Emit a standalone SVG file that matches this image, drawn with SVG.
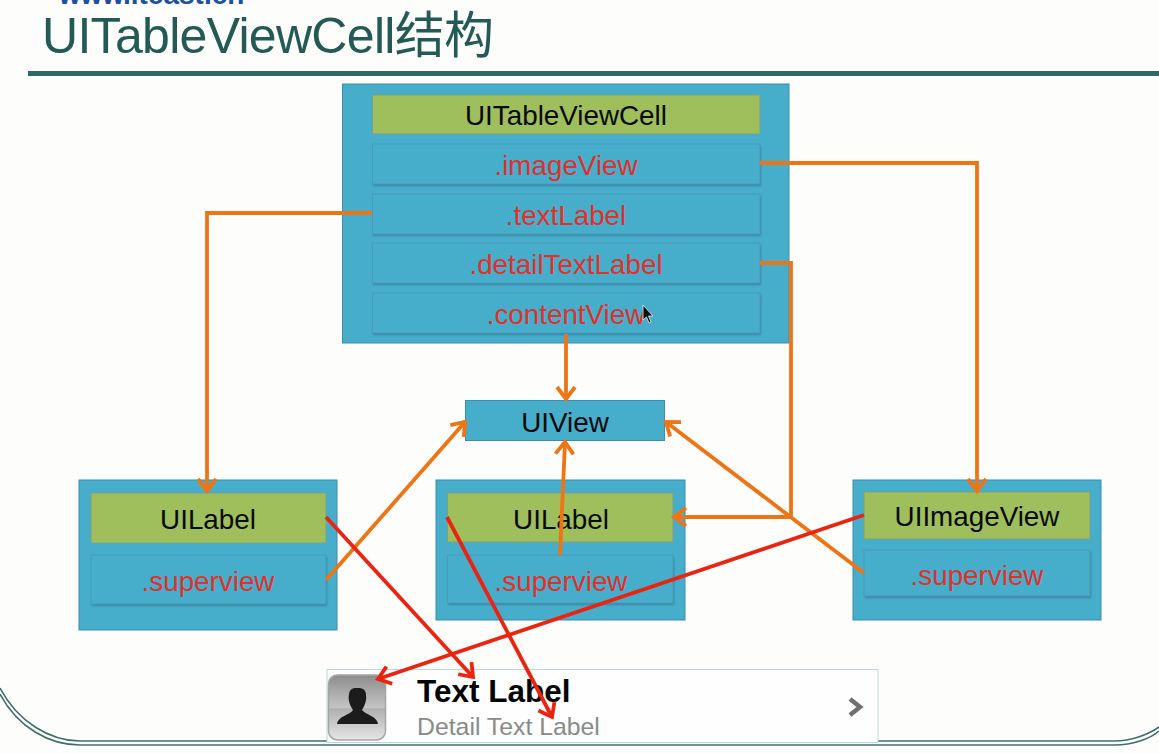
<svg xmlns="http://www.w3.org/2000/svg" width="1159" height="754" viewBox="0 0 1159 754">
<style>
text{font-family:"Liberation Sans","Noto Sans CJK SC",sans-serif;text-anchor:middle}
.outer{fill:#46aecb;stroke:#3a8db0;stroke-width:1}
.green{fill:#9fbe5c;stroke:#7f9f86;stroke-width:1}
.row{fill:#46aecb;stroke:#4a9ab8;stroke-width:1}
.shadow{fill:#2f6c85;opacity:.6;filter:url(#soft)}
.blk{font-size:27.800px;fill:#0a0a0a}
.red{font-size:27.800px;fill:#e2302a}
.o{fill:none;stroke:#ee7414;stroke-width:3.800;stroke-linejoin:miter}
.r{fill:none;stroke:#ea2410;stroke-width:3.800}
.tail{fill:none;stroke-width:1.600;stroke:#3f6f6b}
</style>
<defs>
<filter id="soft" x="-5%" y="-20%" width="110%" height="140%"><feGaussianBlur stdDeviation="1"/></filter>
<marker id="ao" markerUnits="userSpaceOnUse" markerWidth="20" markerHeight="24" refX="15" refY="12" orient="auto"><polyline points="3,3 15,12 3,21" fill="none" stroke="#ee7414" stroke-width="3.800"/></marker>
<marker id="ar" markerUnits="userSpaceOnUse" markerWidth="20" markerHeight="24" refX="15" refY="12" orient="auto"><polyline points="3,3 15,12 3,21" fill="none" stroke="#ea2410" stroke-width="3.800"/></marker>
<linearGradient id="ic" x1="0" y1="0" x2="0" y2="1"><stop offset="0" stop-color="#8d8d8d"/><stop offset=".5" stop-color="#c4c4c4"/><stop offset=".52" stop-color="#b0b0b0"/><stop offset="1" stop-color="#e6e6e6"/></linearGradient>
</defs>
<rect width="1159" height="754" fill="#fdfdfc"/>
<g id="slide">
<text x="151.500" y="4" style="font-size:28px;font-weight:bold;fill:#1f4fa0">www.itcast.cn</text>
<text x="42" y="53" style="font-size:50px;fill:#245a55;text-anchor:start" textLength="452">UITableViewCell结构</text>
<rect x="28" y="71" width="1131" height="5" fill="#2f6a66"/>
<path class="tail" d="M0,688 C18,722 50,741 80,741 H1115 C1130,741 1148,735 1159,727"/>
<path class="tail" d="M0,694 C18,728 50,745 80,745 H1115 C1132,745 1150,739 1159,731"/>
</g>
<g id="cell-struct">
<rect class="outer" x="342.500" y="84" width="446.500" height="259"/>
<g id="cell-title"><rect class="green" x="372.500" y="95" width="387.500" height="39"/><text class="blk" x="566" y="125">UITableViewCell</text></g>
<g id="imageView"><rect class="shadow" x="373" y="146" width="388" height="40"/><rect class="row" x="372.500" y="144" width="387.500" height="40"/><text class="red" x="566" y="175">.imageView</text></g>
<g id="textLabel"><rect class="shadow" x="373" y="196" width="388" height="40"/><rect class="row" x="372.500" y="194" width="387.500" height="40"/><text class="red" x="566" y="225">.textLabel</text></g>
<g id="detailTextLabel"><rect class="shadow" x="373" y="245" width="388" height="40"/><rect class="row" x="372.500" y="243" width="387.500" height="40"/><text class="red" x="566" y="274">.detailTextLabel</text></g>
<g id="contentView"><rect class="shadow" x="373" y="295" width="388" height="40"/><rect class="row" x="372.500" y="293" width="387.500" height="40"/><text class="red" x="566" y="324">.contentView</text></g>
<polygon id="cursor" points="643,305 643,320 646.500,317 649,323 651,322 648.500,316 653,316" fill="#111" stroke="#eee" stroke-width="0.800"/>
</g>
<g id="uiview"><rect class="outer" x="465.500" y="400.500" width="199" height="40"/><text class="blk" x="565" y="432">UIView</text></g>
<g id="label-left">
<rect class="outer" x="79" y="480" width="258" height="150"/>
<rect class="green" x="91" y="493" width="235" height="50"/><text class="blk" x="208" y="529">UILabel</text>
<rect class="shadow" x="92" y="557" width="235" height="49"/><rect class="row" x="91" y="555" width="235" height="49"/><text class="red" x="208" y="591">.superview</text>
</g>
<g id="label-mid">
<rect class="outer" x="436" y="480" width="249" height="140"/>
<rect class="green" x="447.500" y="493" width="225.500" height="49"/><text class="blk" x="561" y="529">UILabel</text>
<rect class="shadow" x="448" y="557" width="226" height="48"/><rect class="row" x="447.500" y="555" width="225.500" height="48"/><text class="red" x="561" y="591">.superview</text>
</g>
<g id="imageview-right">
<rect class="outer" x="853" y="480" width="248" height="140"/>
<rect class="green" x="864" y="492" width="226" height="47"/><text class="blk" x="977" y="526">UIImageView</text>
<rect class="shadow" x="865" y="552" width="226" height="46"/><rect class="row" x="864" y="550" width="226" height="46"/><text class="red" x="977" y="585">.superview</text>
</g>
<g id="table-cell">
<rect x="327" y="669.500" width="551" height="73" fill="#fdfefd" stroke="#bcd8d6" stroke-width="1"/>
<rect x="328.500" y="675" width="57" height="65" rx="9" fill="url(#ic)" stroke="#a5a5a5" stroke-width="1.500"/>
<path d="M337,724 C338,716 350,715 353,710 C349,704 348,699 349,694 C350,688 354,688 358,688 C362,688 366,689 366,695 C367,700 365,705 362,710 C366,715 377,716 378,724 Z" fill="#1c1c1c"/>
<text x="417" y="702" style="font-size:31.500px;font-weight:bold;fill:#050505;text-anchor:start">Text Label</text>
<text x="417" y="735" style="font-size:24.800px;fill:#8a8a8a;text-anchor:start">Detail Text Label</text>
<polyline points="850,699 860,707 850,715" fill="none" stroke="#707070" stroke-width="4.500"/>
</g>
<g id="connectors">
<polyline class="o" points="760,163 977,163 977,491" marker-end="url(#ao)"/>
<polyline class="o" points="372,213 207,213 207,491" marker-end="url(#ao)"/>
<polyline class="o" points="760,263 791,263 791,517 674,517" marker-end="url(#ao)"/>
<line class="o" x1="566" y1="334" x2="566" y2="399" marker-end="url(#ao)"/>
<line class="o" x1="326" y1="580" x2="465" y2="422" marker-end="url(#ao)"/>
<line class="o" x1="560" y1="555" x2="565" y2="442" marker-end="url(#ao)"/>
<line class="o" x1="864" y1="573" x2="666" y2="422" marker-end="url(#ao)"/>
<line class="r" x1="326" y1="517" x2="473" y2="677" marker-end="url(#ar)"/>
<line class="r" x1="447" y1="517" x2="552" y2="717" marker-end="url(#ar)"/>
<line class="r" x1="864" y1="515" x2="378" y2="679" marker-end="url(#ar)"/>
</g>
</svg>
